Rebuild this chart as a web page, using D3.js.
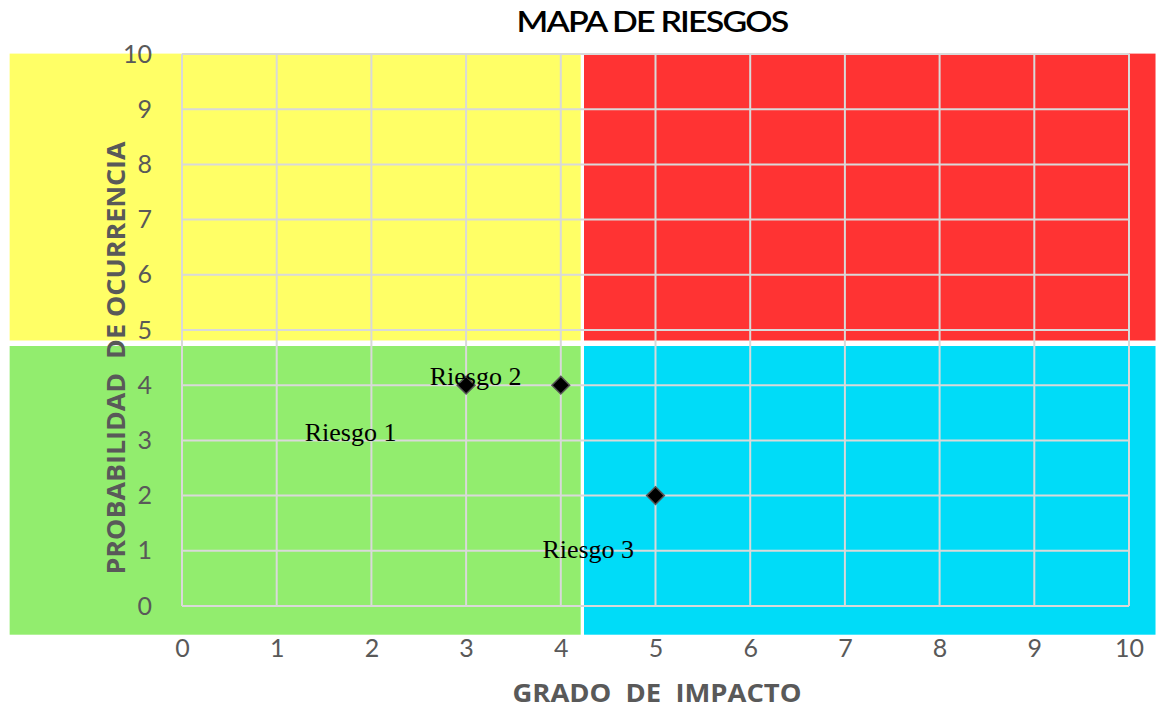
<!DOCTYPE html>
<html>
<head>
<meta charset="utf-8">
<script src="https://cdn.jsdelivr.net/npm/d3@7"></script>
<style>
  body { margin: 0; background: #fff; }
  svg { display: block; }
</style>
</head>
<body>
<script>
"use strict";

(function() {

let width = 1166;
let height = 709;

// risk points: impact (x), probability (y)
let riskX = [3, 4, 5];
let riskY = [4, 4, 2];

// free-floating labels (positions in data units, as in the original)
let labelText = ['Riesgo 1', 'Riesgo 2', 'Riesgo 3'];
let labelX = [1.78, 3.1, 4.29];
let labelY = [3.15, 4.17, 1.03];

let xTicks = [0, 1, 2, 3, 4, 5, 6, 7, 8, 9, 10];
let yTicks = [0, 1, 2, 3, 4, 5, 6, 7, 8, 9, 10];

// background quadrants in data units
let quadNames = ['low', 'mid-impact', 'mid-prob', 'high'];
let quadX0 = [-1.82, 4.245, -1.82, 4.245];
let quadX1 = [4.21, 10.28, 4.21, 10.28];
let quadY0 = [-0.52, -0.52, 4.71, 4.71];
let quadY1 = [4.71, 4.71, 9.98, 9.98];
let quadColor = ['#92ed6e', '#00dcf8', '#ffff66', '#ff3333'];

let x = d3.scaleLinear().domain([0, 10]).range([182, 1129]);
let y = d3.scaleLinear().domain([0, 10]).range([606, 54]);

let svg = d3.select('body')
    .append('svg')
    .attr('width', width)
    .attr('height', height);

// quadrants (a small white band is left between top and bottom rows)
svg.selectAll('.quad')
    .data(quadNames)
    .enter()
    .append('rect')
    .attr('class', 'quad')
    .attr('x', function(d, i) { return x(quadX0[i]); })
    .attr('y', function(d, i) { return y(quadY1[i]) - (i >= 2 ? 1.5 : 0); })
    .attr('width', function(d, i) { return x(quadX1[i]) - x(quadX0[i]); })
    .attr('height', function(d, i) { return y(quadY0[i]) - y(quadY1[i]) - (i >= 2 ? 4 : 0); })
    .attr('fill', function(d, i) { return quadColor[i]; });

// gridlines
let grid = svg.append('g').attr('class', 'grid');
grid.selectAll('.gx')
    .data(xTicks)
    .enter()
    .append('line')
    .attr('x1', function(d) { return x(d); })
    .attr('x2', function(d) { return x(d); })
    .attr('y1', y(10))
    .attr('y2', y(0))
    .attr('stroke', '#d9d9d9')
    .attr('stroke-width', 2);
grid.selectAll('.gy')
    .data(yTicks)
    .enter()
    .append('line')
    .attr('x1', x(0))
    .attr('x2', x(10))
    .attr('y1', function(d) { return y(d); })
    .attr('y2', function(d) { return y(d); })
    .attr('stroke', '#d9d9d9')
    .attr('stroke-width', 2);

// axes: only the labels are shown
let xAxis = svg.append('g')
    .attr('transform', 'translate(0,' + y(0) + ')')
    .call(d3.axisBottom(x).tickValues(xTicks).tickSize(0).tickPadding(33));
let yAxis = svg.append('g')
    .attr('transform', 'translate(' + x(0) + ',0)')
    .call(d3.axisLeft(y).tickValues(yTicks).tickSize(0).tickPadding(30));
[xAxis, yAxis].forEach(function(a) {
    a.select('.domain').remove();
    a.selectAll('text')
        .attr('fill', '#595959')
        .style('font-family', 'Lato, "Open Sans", sans-serif')
        .style('font-size', '25px');
});

// markers
svg.selectAll('.risk')
    .data(riskX)
    .enter()
    .append('path')
    .attr('class', 'risk')
    .attr('d', d3.symbol().type(d3.symbolDiamond2).size(200))
    .attr('transform', function(d, i) { return 'translate(' + x(d) + ',' + y(riskY[i]) + ')'; })
    .attr('fill', '#000')
    .attr('stroke', '#555')
    .attr('stroke-width', 1.5);

// labels
svg.selectAll('.rlabel')
    .data(labelText)
    .enter()
    .append('text')
    .attr('class', 'rlabel')
    .attr('x', function(d, i) { return x(labelX[i]); })
    .attr('y', function(d, i) { return y(labelY[i]); })
    .attr('dy', '0.35em')
    .attr('text-anchor', 'middle')
    .style('font-family', '"Liberation Serif", "Times New Roman", serif')
    .style('font-size', '26px')
    .attr('fill', '#000')
    .text(function(d) { return d; });

// title
svg.append('text')
    .attr('x', 652)
    .attr('y', 32)
    .attr('text-anchor', 'middle')
    .attr('textLength', 271)
    .attr('lengthAdjust', 'spacingAndGlyphs')
    .style('font-family', 'Lato, sans-serif')
    .style('font-size', '28px')
    .style('font-weight', 600)
    .style('letter-spacing', '-1.5px')
    .attr('fill', '#000')
    .text('MAPA DE RIESGOS');

// axis titles
svg.append('text')
    .attr('x', 657)
    .attr('y', 702)
    .attr('text-anchor', 'middle')
    .attr('textLength', 289)
    .attr('lengthAdjust', 'spacingAndGlyphs')
    .style('font-family', '"Open Sans", sans-serif')
    .style('font-size', '25px')
    .style('font-weight', 'bold')
    .style('white-space', 'pre')
    .attr('fill', '#595959')
    .text('GRADO  DE  IMPACTO');

svg.append('text')
    .attr('transform', 'translate(125,358) rotate(-90)')
    .attr('text-anchor', 'middle')
    .attr('textLength', 433)
    .attr('lengthAdjust', 'spacingAndGlyphs')
    .style('font-family', '"Open Sans", sans-serif')
    .style('font-size', '25px')
    .style('font-weight', 'bold')
    .style('white-space', 'pre')
    .attr('fill', '#595959')
    .text('PROBABILIDAD  DE OCURRENCIA');

})();
</script>
</body>
</html>
